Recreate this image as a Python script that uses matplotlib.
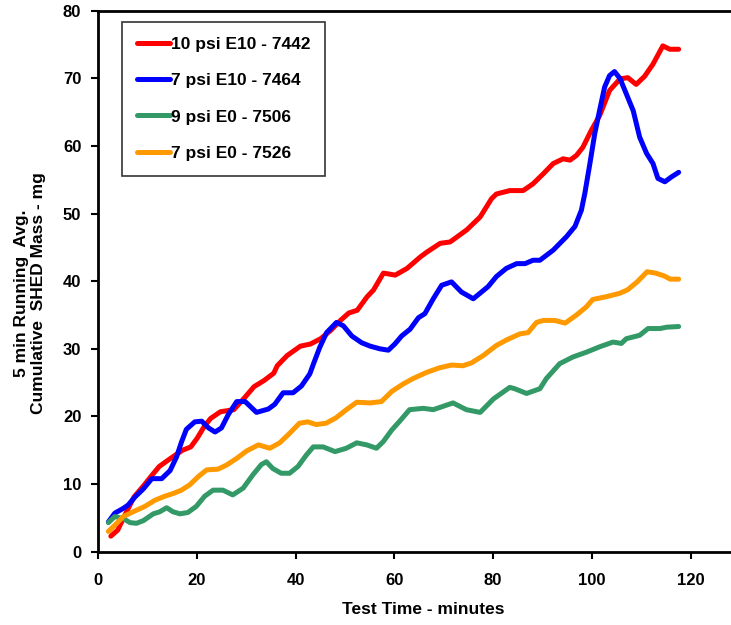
import matplotlib
matplotlib.use("Agg")
import matplotlib.pyplot as plt

plt.rcParams['font.family'] = ['Liberation Sans', 'DejaVu Sans']
plt.rcParams['font.weight'] = 'bold'

# Test time (minutes) and cumulative SHED mass (mg), 5-minute running average
t_7442 = [2.6, 4.0, 5.3, 7.3, 9.4, 10.7, 12.4, 14.7, 17.1, 18.8, 20.1, 21.5, 22.8, 24.8, 27.5,
          29.6, 31.6, 33.6, 35.6, 36.3, 38.3, 41.0, 43.0, 45.1, 47.1, 49.1, 50.8, 52.5, 54.5,
          55.8, 57.8, 60.2, 62.6, 65.3, 66.6, 69.3, 71.3, 74.7, 77.4, 79.7, 80.7, 83.4, 86.1,
          88.1, 90.2, 92.2, 94.2, 95.6, 96.9, 98.2, 99.9, 101.6, 103.6, 105.7, 107.3, 109.0,
          110.7, 112.4, 114.4, 115.8, 117.6]
m_7442 = [2.3, 3.2, 5.2, 8.1, 9.9, 11.1, 12.6, 13.8, 15.0, 15.5, 16.8, 18.5, 19.7, 20.7, 21.0,
          22.7, 24.4, 25.3, 26.4, 27.5, 29.0, 30.4, 30.7, 31.5, 32.7, 34.2, 35.3, 35.7, 37.7,
          38.7, 41.2, 40.9, 41.9, 43.6, 44.3, 45.6, 45.8, 47.6, 49.5, 52.2, 52.9, 53.4, 53.4,
          54.4, 55.9, 57.4, 58.1, 57.9, 58.6, 59.8, 62.3, 64.5, 68.2, 69.9, 70.1, 69.1,
          70.3, 72.1, 74.8, 74.3, 74.3]

t_7464 = [2.1, 3.4, 5.1, 6.1, 7.5, 9.2, 10.9, 12.9, 14.6, 15.9, 16.9, 17.9, 19.6, 21.0, 22.4,
          23.7, 25.0, 26.4, 28.1, 29.8, 31.1, 32.1, 34.5, 35.8, 37.5, 39.5, 41.2, 42.9, 43.6,
          44.9, 46.3, 48.3, 49.7, 51.4, 53.4, 55.1, 57.1, 58.8, 60.1, 61.5, 63.2, 64.9, 66.2,
          67.9, 69.6, 71.6, 73.6, 76.0, 79.0, 80.7, 82.7, 84.8, 86.5, 88.1, 89.5, 92.2, 94.9,
          96.6, 97.9, 98.6, 99.6, 100.6, 101.6, 102.6, 103.6, 104.6, 105.7, 107.0, 108.4,
          109.7, 111.1, 112.4, 113.4, 114.8, 116.1, 117.6]
m_7464 = [4.4, 5.7, 6.4, 6.9, 8.1, 9.3, 10.8, 10.8, 12.0, 14.0, 16.2, 18.1, 19.2, 19.3, 18.3,
          17.7, 18.3, 20.3, 22.2, 22.2, 21.3, 20.6, 21.1, 21.8, 23.5, 23.5, 24.5, 26.3, 27.7,
          30.2, 32.4, 33.9, 33.4, 31.9, 30.9, 30.4, 30.0, 29.8, 30.7, 31.9, 32.9, 34.6, 35.2,
          37.4, 39.4, 39.9, 38.4, 37.4, 39.2, 40.7, 41.9, 42.6, 42.6, 43.1, 43.1, 44.6, 46.6,
          48.1, 50.5, 53.0, 57.3, 61.8, 65.3, 68.7, 70.4, 71.0, 70.0, 67.7, 65.2,
          61.3, 58.9, 57.4, 55.2, 54.7, 55.4, 56.1]

t_7506 = [2.1, 3.4, 5.1, 6.5, 7.8, 9.2, 11.2, 12.5, 13.9, 15.2, 16.6, 18.2, 19.9, 21.6, 23.3,
          25.3, 27.3, 29.4, 31.4, 33.1, 34.1, 35.4, 37.1, 38.8, 40.5, 42.2, 43.6, 45.6, 48.0,
          50.3, 52.4, 54.4, 56.4, 57.8, 59.5, 61.1, 63.1, 65.9, 67.9, 69.9, 71.9, 74.6, 77.4,
          80.1, 83.4, 84.4, 86.8, 89.5, 90.8, 93.5, 96.2, 98.9, 101.6, 104.3, 106.0, 107.0,
          109.7, 111.4, 113.8, 115.2, 117.6]
m_7506 = [4.3, 5.2, 4.9, 4.3, 4.2, 4.6, 5.6, 5.9, 6.5, 5.9, 5.6, 5.8, 6.7, 8.2, 9.1,
          9.1, 8.4, 9.4, 11.4, 12.9, 13.3, 12.3, 11.6, 11.6, 12.6, 14.3, 15.5, 15.5, 14.8,
          15.3, 16.1, 15.8, 15.3, 16.3, 18.0, 19.3, 21.0, 21.2, 21.0, 21.5, 22.0, 21.0, 20.6,
          22.6, 24.3, 24.1, 23.4, 24.1, 25.6, 27.8, 28.8, 29.5, 30.3, 31.0, 30.8, 31.5,
          32.0, 33.0, 33.0, 33.2, 33.3]

t_7526 = [2.1, 3.8, 5.1, 7.1, 9.5, 11.5, 13.5, 15.2, 16.9, 18.6, 20.3, 22.0, 24.3, 26.0, 28.1,
          30.1, 32.5, 34.8, 36.8, 38.8, 40.8, 42.5, 44.2, 46.2, 48.2, 50.3, 52.4, 55.1, 57.4,
          59.5, 61.8, 63.8, 66.5, 69.2, 71.6, 73.9, 75.6, 78.0, 80.7, 82.7, 85.4, 87.1, 88.8,
          90.2, 92.5, 94.6, 96.9, 98.9, 100.2, 102.9, 105.6, 107.2, 109.2, 111.2, 112.9,
          114.6, 115.9, 117.6]
m_7526 = [3.0, 4.2, 5.2, 5.9, 6.7, 7.6, 8.2, 8.6, 9.1, 9.9, 11.1, 12.1, 12.2, 12.8, 13.8,
          14.9, 15.8, 15.3, 16.1, 17.5, 19.0, 19.2, 18.8, 19.0, 19.8, 21.0, 22.1, 22.0, 22.2,
          23.7, 24.8, 25.6, 26.5, 27.2, 27.6, 27.5, 27.9, 29.0, 30.5, 31.3, 32.2, 32.4, 33.9,
          34.2, 34.2, 33.8, 35.0, 36.2, 37.3, 37.7, 38.2, 38.7, 39.9, 41.4, 41.2,
          40.8, 40.3, 40.3]

series = [
    ("10 psi E10 - 7442", t_7442, m_7442, "#FF0000"),
    ("7 psi E10 - 7464", t_7464, m_7464, "#0000FF"),
    ("9 psi E0 - 7506", t_7506, m_7506, "#339966"),
    ("7 psi E0 - 7526", t_7526, m_7526, "#FF9900"),
]

x_ticks = [0, 20, 40, 60, 80, 100, 120]
y_ticks = [0, 10, 20, 30, 40, 50, 60, 70, 80]

W, H = 731, 625
fig = plt.figure(figsize=(W / 100, H / 100), dpi=100)
ax = fig.add_axes([98 / W, 1 - 551.7 / H, 633 / W, 541 / H])

for label, t, m, color in series:
    ax.plot(t, m, color=color, lw=3.6, label=label, solid_capstyle='round')

ax.set_xlim(0, 128.2)
ax.set_ylim(0, 80)
ax.set_xticks(x_ticks)
ax.set_yticks(y_ticks)
ax.tick_params(axis='both', direction='out', length=5, width=1.5, labelsize=12)
ax.tick_params(axis='x', pad=10)
ax.tick_params(axis='y', pad=7)
for lbl in ax.get_xticklabels() + ax.get_yticklabels():
    lbl.set_fontweight('bold')

for side in ['left', 'top', 'bottom']:
    ax.spines[side].set_linewidth(2)
ax.spines['right'].set_visible(False)

ax.set_xlabel("Test Time - minutes", fontsize=12.5, fontweight='bold')
ax.xaxis.set_label_coords((423 - 98) / 633, (551.7 - 602) / 541)

fig.text(30 / W, 1 - 293 / H, "5 min Running  Avg.\nCumulative  SHED Mass - mg",
         rotation=90, ha='center', va='center', multialignment='center',
         fontsize=12.5, fontweight='bold', linespacing=1.1)

leg = ax.legend(loc='upper left', bbox_to_anchor=((122 - 98) / 633, (551.7 - 22) / 541),
                borderaxespad=0, frameon=True, fancybox=False,
                edgecolor='black', handlelength=1.9, handletextpad=0.05,
                labelspacing=1.22, borderpad=0.85, prop={'weight': 'bold', 'size': 12.5})
leg.get_frame().set_linewidth(1.2)

fig.savefig("out.png", dpi=100)
